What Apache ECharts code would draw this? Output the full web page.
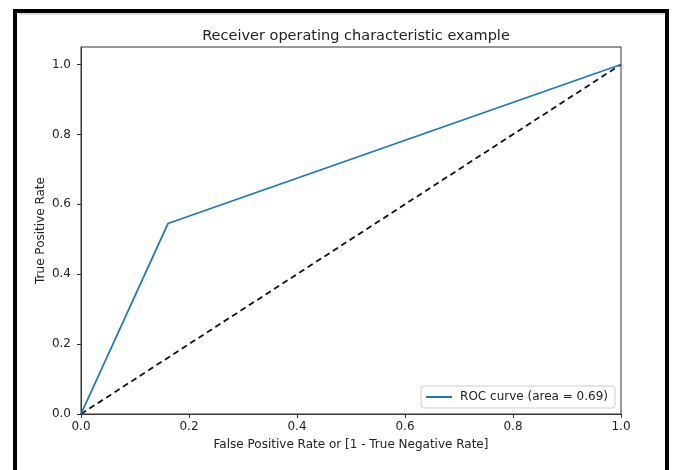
<!DOCTYPE html>
<html><head><meta charset="utf-8">
<script src="https://cdn.jsdelivr.net/npm/echarts@6/dist/echarts.min.js"></script>
<style>html,body{margin:0;padding:0;background:#fff}#c{width:674px;height:470px}</style>
</head><body><div id="c"></div>
<script>
const rocFpr = [0, 0.161, 1];
const rocTpr = [0, 0.545, 1];
const diagX = [0, 1];
const diagY = [0, 1];
const xTicks = [0, 0.2, 0.4, 0.6, 0.8, 1.0];
const yTicks = [0, 0.2, 0.4, 0.6, 0.8, 1.0];
const titleText = 'Receiver operating characteristic example';
const xName = 'False Positive Rate or [1 - True Negative Rate]';
const yName = 'True Positive Rate';
const legendName = 'ROC curve (area = 0.69)';

const chart = echarts.init(document.getElementById('c'));
const font = 'DejaVu Sans';
chart.setOption({
  animation: false,
  title: { text: titleText, left: 351, textAlign: 'center', top: 24,
    textStyle: { fontFamily: font, fontSize: 14.5, fontWeight: 'normal', color: '#222' } },
  grid: { left: 81, right: 53, top: 47, bottom: 56, show: true, borderColor: '#333', borderWidth: 1, containLabel: false },
  legend: {
    data: [legendName], right: 59, bottom: 62, orient: 'horizontal',
    icon: 'rect',
    backgroundColor: '#fff', borderColor: '#ccc', borderWidth: 1, borderRadius: 3,
    padding: [5, 7, 5, 5], itemWidth: 26, itemHeight: 2, itemGap: 8,
    textStyle: { fontFamily: font, fontSize: 12, color: '#222', padding: [0, 0, 0, 3] }
  },
  xAxis: {
    type: 'value', min: 0, max: 1, interval: 0.2,
    name: xName, nameLocation: 'middle', nameGap: 25, nameMoveOverlap: false,
    nameTextStyle: { fontFamily: font, fontSize: 12, color: '#222' },
    axisLine: { show: true, lineStyle: { color: '#333', width: 1 } },
    axisTick: { show: true, length: 4, lineStyle: { color: '#333' } },
    axisLabel: { fontFamily: font, fontSize: 12, color: '#222', margin: 7, formatter: v => v.toFixed(1) },
    splitLine: { show: false }
  },
  yAxis: {
    type: 'value', min: 0, max: 1.05,
    name: yName, nameLocation: 'middle', nameGap: 34, nameMoveOverlap: false,
    nameTextStyle: { fontFamily: font, fontSize: 12, color: '#222' },
    axisLine: { show: true, lineStyle: { color: '#333', width: 1 } },
    axisTick: { show: true, length: 4, lineStyle: { color: '#333' }, customValues: yTicks },
    axisLabel: { fontFamily: font, fontSize: 12, color: '#222', margin: 10, customValues: yTicks, formatter: v => v.toFixed(1) },
    splitLine: { show: false }
  },
  series: [
    { name: legendName, type: 'line', data: rocFpr.map((x, i) => [x, rocTpr[i]]),
      symbol: 'none', lineStyle: { color: '#1f77b4', width: 1.8 }, itemStyle: { color: '#1f77b4' }, z: 3 },
    { name: 'diag', type: 'line', data: diagX.map((x, i) => [x, diagY[i]]),
      symbol: 'none', lineStyle: { color: '#111', width: 1.8, type: [6, 4] }, z: 2 }
  ],
  graphic: [
    { type: 'line', shape: { x1: 19, y1: 14, x2: 665, y2: 14 }, style: { stroke: '#ddd', lineWidth: 2 } },
    { type: 'rect', shape: { x: 15, y: 11, width: 652, height: 480 }, style: { fill: 'none', stroke: '#000', lineWidth: 4 } }
  ]
});
</script></body></html>
